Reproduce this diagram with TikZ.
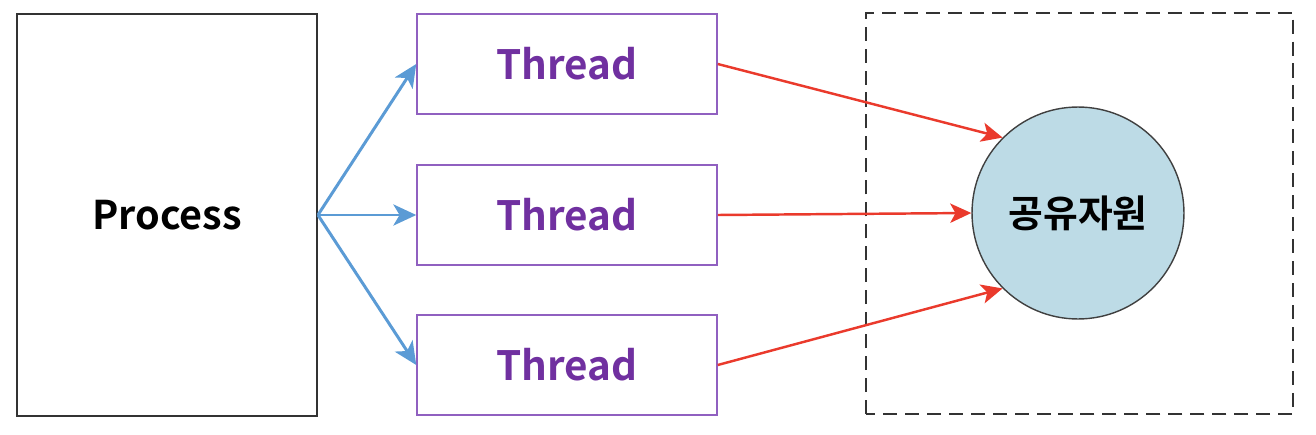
\documentclass[tikz,border=0pt]{standalone}
\usepackage{fontspec}
\setmainfont{Noto Sans CJK KR}[BoldFont={Noto Sans CJK KR Bold}]
\usepackage{tikz}
\usetikzlibrary{arrows.meta}

\definecolor{thrpurple}{HTML}{7030A0}
\definecolor{boxpurple}{HTML}{9060C0}
\definecolor{arrblue}{HTML}{5B9BD5}
\definecolor{arrred}{HTML}{EA3A2C}
\definecolor{resblue}{HTML}{BDDBE6}

\tikzset{
  procbox/.style={draw=black!80, line width=1.1pt, minimum width=6cm, minimum height=8.04cm, font=\bfseries\fontsize{22.5}{26}\selectfont},
  thrbox/.style={draw=boxpurple, line width=0.9pt, minimum width=6cm, minimum height=2cm, text=thrpurple, font=\bfseries\fontsize{23}{26}\selectfont},
  blue arr/.style={draw=arrblue, line width=1.7pt, -{Stealth[length=13pt,width=12pt,inset=3.5pt]}},
  red arr/.style={draw=arrred, line width=1.4pt, -{Stealth[length=12pt,width=11pt,inset=3pt]}},
}

\begin{document}
\begin{tikzpicture}[x=0.02cm,y=0.02cm]
\useasboundingbox (0,0) rectangle (1316,434);

\node[procbox] (proc) at (167,219) {Process};
\node[thrbox] (thr1) at (567,370) {Thread};
\node[thrbox] (thr2) at (567,219) {Thread};
\node[thrbox] (thr3) at (567,69) {Thread};

%\draw[-] shared area
\draw[black!80, line width=1pt, dash pattern=on 8pt off 4.5pt] (866,20) rectangle (1293,421);
\node[circle, draw=black!75, line width=0.8pt, fill=resblue, minimum size=4.24cm, inner sep=0pt, font=\bfseries\fontsize{21.5}{24}\selectfont] (res) at (1078,221) {공유자원};

\draw[blue arr] (proc.east) -- (thr1.west);
\draw[blue arr] (proc.east) -- (thr2.west);
\draw[blue arr] (proc.east) -- (thr3.west);

\draw[red arr] (thr1.east) -- (res.north west);
\draw[red arr] (thr2.east) -- (res.west);
\draw[red arr] (thr3.east) -- (res.south west);

\end{tikzpicture}
\end{document}
